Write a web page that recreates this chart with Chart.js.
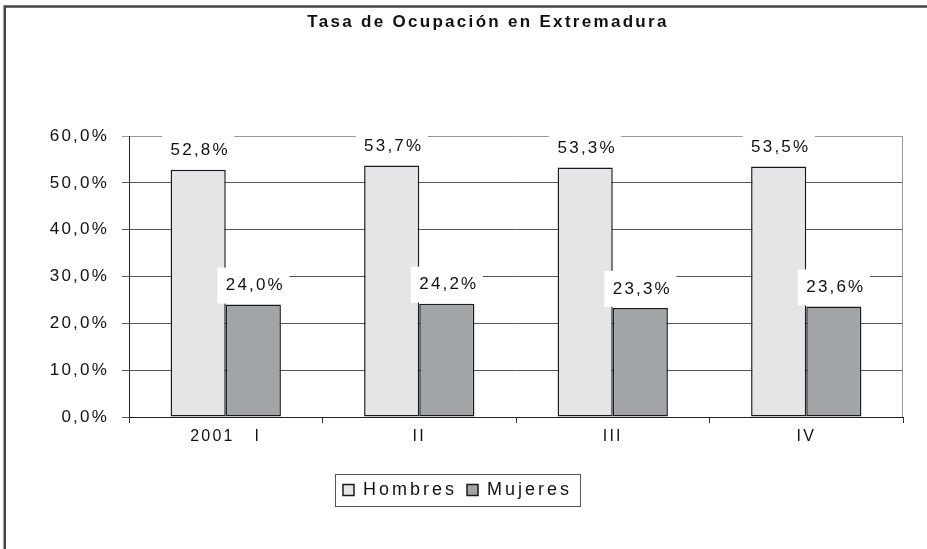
<!DOCTYPE html>
<html>
<head>
<meta charset="utf-8">
<script src="https://cdn.jsdelivr.net/npm/chart.js@4.4.1/dist/chart.umd.min.js"></script>
<style>
  html, body { margin: 0; padding: 0; background: #fff; }
  #wrap { width: 927px; height: 549px; }
</style>
</head>
<body>
<div id="wrap"><canvas id="chart" width="927" height="549"></canvas></div>
<script>
// Tasa de ocupación por trimestre (2001)
const categories = ['2001   I', 'II', 'III', 'IV'];
const hombres = [52.8, 53.7, 53.3, 53.5];
const mujeres = [24.0, 24.2, 23.3, 23.6];
const titleText = 'Tasa de Ocupación en Extremadura';

const FONT = '"Liberation Sans", Arial, sans-serif';
const SPACING = '2.2px';
const LEGEND_SPACING = '3px';

function pct(v) {
    return v.toFixed(1).replace('.', ',') + '%';
}

// the original text is spread out, canvas letterSpacing does that
const spacingPlugin = {
    id: 'spacing',
    beforeUpdate(chart) {
        chart.ctx.letterSpacing = SPACING;
        const lg = chart.legend;
        if (lg && !lg._spaced) {
            const fit = lg.fit;
            const draw = lg.draw;
            lg.fit = function () {
                this.ctx.letterSpacing = LEGEND_SPACING;
                fit.apply(this, arguments);
                this.ctx.letterSpacing = SPACING;
            };
            lg.draw = function () {
                this.ctx.letterSpacing = LEGEND_SPACING;
                draw.apply(this, arguments);
                this.ctx.letterSpacing = SPACING;
            };
            lg._spaced = true;
        }
    },
    beforeDraw(chart) { chart.ctx.letterSpacing = SPACING; }
};

const framePlugin = {
    id: 'frame',
    afterDraw(chart) {
        const ctx = chart.ctx;
        ctx.save();
        // outer frame (left + top only)
        ctx.strokeStyle = '#444';
        ctx.lineWidth = 2.5;
        ctx.beginPath();
        ctx.moveTo(4.75, 549);
        ctx.lineTo(4.75, 6.5);
        ctx.lineTo(927, 6.5);
        ctx.stroke();

        // title
        ctx.letterSpacing = '2.3px';
        ctx.fillStyle = '#111';
        ctx.font = 'bold 17px ' + FONT;
        ctx.textAlign = 'center';
        ctx.textBaseline = 'middle';
        ctx.fillText(titleText, 488, 22);

        // legend border
        const boxes = chart.legend.legendHitBoxes;
        if (boxes && boxes.length) {
            const l = Math.min(...boxes.map(b => b.left)) - 8;
            const r = Math.max(...boxes.map(b => b.left + b.width)) + 8;
            const t = boxes[0].top - 7;
            const h = boxes[0].height + 14;
            ctx.strokeStyle = '#555';
            ctx.lineWidth = 1;
            ctx.strokeRect(Math.round(l) + 0.5, Math.round(t) + 0.5, Math.round(r - l), Math.round(h));
        }
        ctx.restore();
    }
};

// right edge line of the plot area
const rightEdgePlugin = {
    id: 'rightEdge',
    beforeDatasetsDraw(chart) {
        const ctx = chart.ctx;
        const a = chart.chartArea;
        ctx.save();
        ctx.strokeStyle = '#999';
        ctx.lineWidth = 1;
        ctx.beginPath();
        ctx.moveTo(Math.round(a.right) - 0.5, a.top);
        ctx.lineTo(Math.round(a.right) - 0.5, a.bottom);
        ctx.stroke();
        ctx.restore();
    }
};

// value labels in white boxes above each bar
const valueLabels = {
    id: 'valueLabels',
    afterDatasetsDraw(chart) {
        const ctx = chart.ctx;
        ctx.save();
        ctx.font = '17px ' + FONT;
        ctx.textAlign = 'center';
        ctx.textBaseline = 'middle';
        chart.data.datasets.forEach((ds, i) => {
            chart.getDatasetMeta(i).data.forEach((bar, j) => {
                const x = bar.x;
                const top = bar.y;
                ctx.fillStyle = '#fff';
                ctx.fillRect(x - 36, top - 37, 72, 36);
                ctx.fillStyle = '#111';
                ctx.fillText(pct(ds.data[j]), x + 2, top - 19);
            });
        });
        ctx.restore();
    }
};

new Chart(document.getElementById('chart'), {
    type: 'bar',
    data: {
        labels: categories,
        datasets: [
            {
                label: 'Hombres',
                data: hombres,
                backgroundColor: '#e5e5e7',
                borderColor: '#1a1a1a',
                borderWidth: 1.5,
                borderSkipped: false,
                categoryPercentage: 0.57,
                barPercentage: 1.0
            },
            {
                label: 'Mujeres',
                data: mujeres,
                backgroundColor: '#a2a5a8',
                borderColor: '#1a1a1a',
                borderWidth: 1.5,
                borderSkipped: false,
                categoryPercentage: 0.57,
                barPercentage: 1.0
            }
        ]
    },
    options: {
        responsive: false,
        animation: false,
        layout: { padding: { left: 12, right: 24, top: 136, bottom: 40 } },
        plugins: {
            title: { display: false },
            tooltip: { enabled: false },
            legend: {
                display: true,
                position: 'bottom',
                labels: {
                    boxWidth: 11,
                    boxHeight: 11,
                    padding: 10,
                    color: '#111',
                    font: { family: FONT, size: 18 }
                }
            }
        },
        scales: {
            x: {
                afterFit(scale) { scale.height = 54; },
                grid: {
                    display: true,
                    drawOnChartArea: false,
                    drawTicks: true,
                    tickLength: 6,
                    color: '#333'
                },
                border: { display: true, color: '#222', width: 1 },
                ticks: {
                    color: '#111',
                    padding: 4,
                    maxRotation: 0,
                    font: { family: FONT, size: 16 }
                }
            },
            y: {
                min: 0,
                max: 60,
                afterFit(scale) { scale.width = 117; },
                grid: {
                    color: ctx => ctx.tick && ctx.tick.value === 60 ? '#999' : '#555',
                    tickLength: 7,
                    drawTicks: true
                },
                border: { display: true, color: '#222', width: 1 },
                ticks: {
                    stepSize: 10,
                    color: '#111',
                    padding: 13,
                    font: { family: FONT, size: 17 },
                    callback: v => pct(v)
                }
            }
        }
    },
    plugins: [spacingPlugin, rightEdgePlugin, valueLabels, framePlugin]
});
</script>
</body>
</html>
